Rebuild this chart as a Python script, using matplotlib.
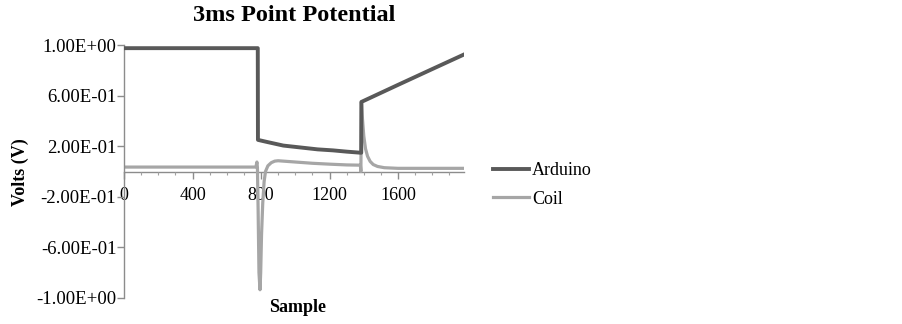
import matplotlib
matplotlib.use("Agg")
import matplotlib.pyplot as plt
from matplotlib.ticker import MultipleLocator

plt.rcParams['font.family'] = ['Liberation Serif', 'DejaVu Serif']

# Data
arduino_x = [0, 781, 782, 830, 930, 1030, 1130, 1220, 1300, 1385, 1386, 1600, 1800, 1985]
arduino_y = [0.975, 0.975, 0.25, 0.235, 0.205, 0.19, 0.175, 0.167, 0.157, 0.148, 0.55, 0.685, 0.81, 0.925]

coil_x = [0, 770, 776, 779, 783, 788, 794, 798, 803, 810, 818, 826, 840, 860, 880, 900,
          1000, 1100, 1200, 1300, 1380, 1383, 1386, 1392, 1400, 1410, 1422, 1437, 1455,
          1480, 1520, 1600, 1985]
coil_y = [0.035, 0.035, 0.075, 0.03, -0.3, -0.8, -0.935, -0.8, -0.5, -0.25, -0.08, 0.0, 0.045,
          0.07, 0.082, 0.085, 0.075, 0.065, 0.058, 0.052, 0.05, 0.0, 0.55, 0.42, 0.28, 0.18,
          0.12, 0.08, 0.055, 0.04, 0.03, 0.025, 0.025]

y_ticks = [-1.0, -0.6, -0.2, 0.2, 0.6, 1.0]
x_ticks = [0, 400, 800, 1200, 1600]

fig = plt.figure(figsize=(9.02, 3.24), dpi=100)
ax = fig.add_axes([124/902, 1-298/324, (464-124)/902, (298-45)/324])

ax.plot(coil_x, coil_y, color='#a6a6a6', lw=2.3, label='Coil', zorder=2)
ax.plot(arduino_x, arduino_y, color='#595959', lw=2.8, label='Arduino', zorder=3)

ax.set_xlim(0, 1985)
ax.set_ylim(-1.0, 1.0)

for s in ['top', 'right']:
    ax.spines[s].set_visible(False)
ax.spines['bottom'].set_position(('data', 0))
ax.spines['bottom'].set_color('#8c8c8c')
ax.spines['left'].set_color('#8c8c8c')
ax.spines['bottom'].set_linewidth(1.0)
ax.spines['left'].set_linewidth(1.0)
ax.spines['bottom'].set_zorder(1)

ax.set_yticks(y_ticks)
ax.set_yticklabels(['{:.2E}'.format(v) for v in y_ticks])
ax.set_xticks(x_ticks)
ax.set_xticklabels([str(v) for v in x_ticks])
ax.xaxis.set_minor_locator(MultipleLocator(100))

ax.tick_params(axis='y', which='major', direction='out', length=5, width=1,
               color='#8c8c8c', labelsize=13.5, pad=0.5)
ax.tick_params(axis='x', which='major', direction='out', length=5, width=1,
               color='#8c8c8c', labelsize=13, pad=6)
ax.tick_params(axis='x', which='minor', direction='out', length=2, width=0.8,
               color='#a0a0a0')

ax.set_title('3ms Point Potential', fontsize=17.5, fontweight='bold', pad=17)
ax.set_ylabel('Volts (V)', fontsize=13, fontweight='bold')
ax.yaxis.set_label_coords(-0.279, 0.498)
ax.set_xlabel('Sample', fontsize=13, fontweight='bold')
ax.xaxis.set_label_coords(0.51, -0.005)

handles, labels = ax.get_legend_handles_labels()
order = [1, 0]
leg = fig.legend([handles[i] for i in order], [labels[i] for i in order],
                 loc='upper left', bbox_to_anchor=(484/902, 1-153/324),
                 frameon=False, fontsize=13, handlelength=2.0, handletextpad=0.15,
                 labelspacing=0.65, borderpad=0)

fig.savefig('out.png', dpi=100)
